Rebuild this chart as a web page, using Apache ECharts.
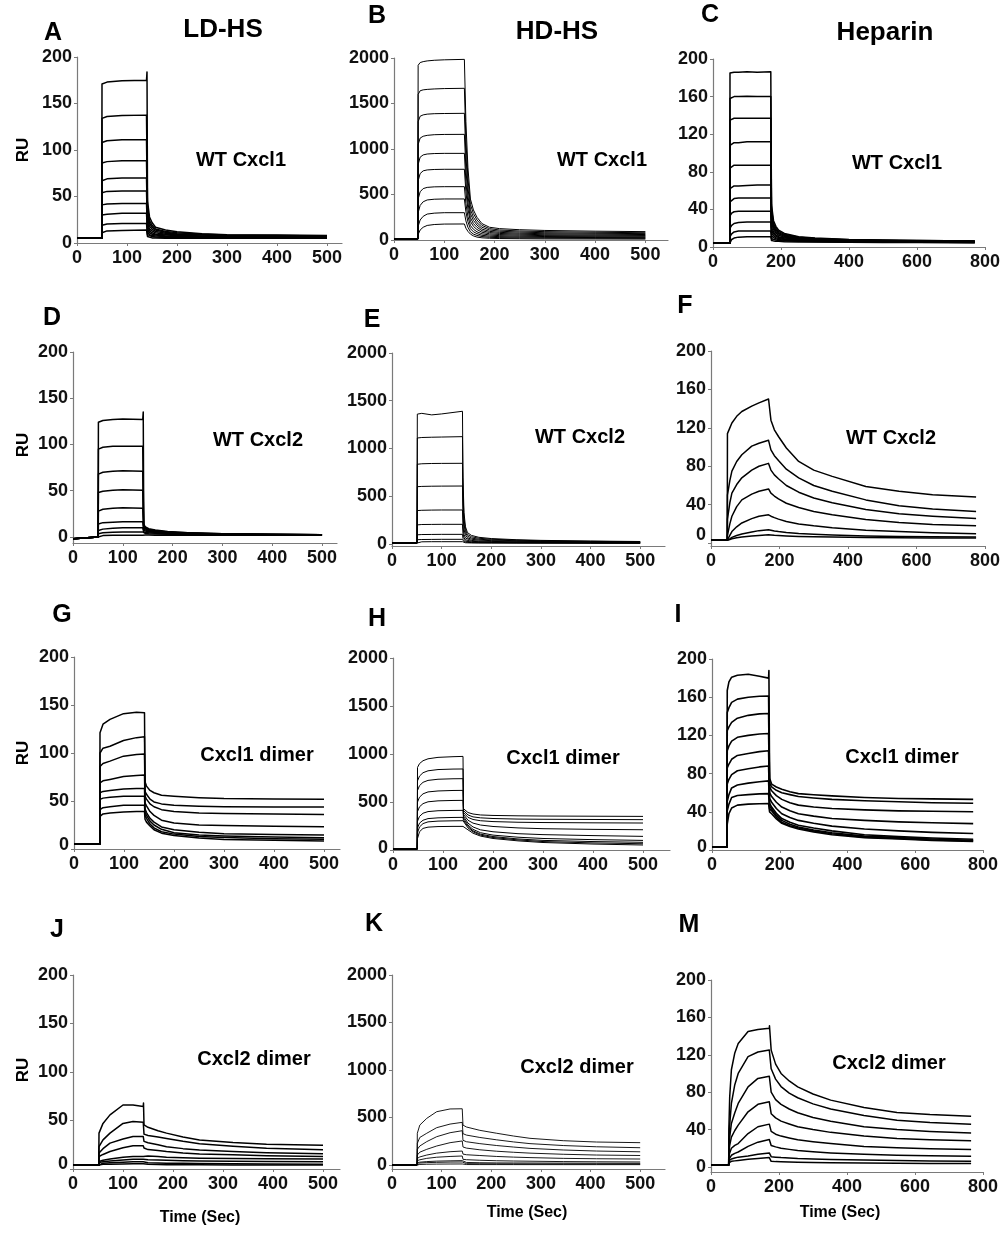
<!DOCTYPE html>
<html><head><meta charset="utf-8">
<script src="https://cdn.jsdelivr.net/npm/echarts@6/dist/echarts.min.js"></script>
<style>html,body{margin:0;padding:0;background:#fff}#c{width:1003px;height:1235px}</style>
</head><body><div id="c"></div>
<script>
// ---------------- DATA (RU vs time) ----------------
const tA = [0, 49.5, 50, 60, 90, 139, 140, 141, 145, 150, 157, 177, 200, 250, 300, 400, 500];
const vA = [
 [5,5,171,173,174.5,175,184,45,28,22,17,14,12,10,9,8.5,8],
 [5,5,134,136,137,137.5,137.5,38,24,19,15,12.5,11,9.5,8.5,8,7.5],
 [5,5,108,110,111,111,111,32,21,17,14,11.5,10,9,8,7.5,7],
 [5,5,86,87.5,88.5,88.5,88.5,27,18,15,12.5,10.5,9.5,8.5,7.5,7,7],
 [5,5,67,69,70,70,70,22,15,13,11,9.5,8.5,7.5,7,6.5,6.5],
 [5,5,54,55.5,56,56,56,18,13,11,9.5,8.5,8,7,6.5,6,6],
 [5,5,41,42,42.5,42.5,42.5,15,11,9.5,8.5,7.5,7,6.5,6,6,5.5],
 [5,5,30,31,32,32,32,12,9,8,7.5,7,6.5,6,5.5,5.5,5.5],
 [5,5,19,20.5,21,21,21,9,7.5,7,6.5,6,6,5.5,5.5,5,5],
 [5,5,11,13,13.5,14,14,7,6,5.5,5.5,5,5,5,5,5,5]
];
const tB = [0, 47.5, 48, 52, 58, 66, 80, 100, 140, 143, 147, 152, 158, 165, 175, 190, 210, 250, 300, 400, 500];
const vB = [
 [10,10,1920,1950,1960,1968,1975,1980,1985,1300,800,450,330,250,180,140,125,113,105,97,92],
 [10,10,1600,1640,1650,1655,1660,1664,1667,1100,680,390,290,220,160,125,110,99,92,85,80],
 [10,10,1300,1360,1375,1383,1388,1390,1392,930,580,335,250,190,140,110,97,87,80,74,70],
 [10,10,1050,1120,1140,1150,1157,1160,1161,780,490,290,215,165,120,95,84,75,69,64,60],
 [10,10,830,910,935,945,950,952,952,640,410,245,180,140,102,82,72,64,58,54,50],
 [10,10,650,730,760,770,775,777,777,530,340,205,150,115,85,68,60,53,48,45,42],
 [10,10,450,530,565,578,584,586,586,400,260,160,118,90,68,55,48,42,38,36,34],
 [10,10,300,380,420,440,448,451,451,310,200,125,90,70,52,42,37,32,29,27,26],
 [10,10,150,220,260,285,295,300,300,210,140,90,65,50,38,30,26,23,21,19,18],
 [10,10,60,110,140,160,170,175,176,130,95,65,45,32,24,19,16,14,12,11,10]
];
const tC = [0, 49.5, 50, 55, 62, 75, 100, 130, 170, 172, 178, 185, 193, 210, 252, 300, 400, 500, 600, 770];
const vC = [
 [4,4,185,185.5,186,186,186.5,186,186.5,45,28,22,18,14.5,11,9.5,8,7.5,7,6.5],
 [4,4,158,159,160,160,160.5,160,160,40,25,20,16.5,13.5,10.5,9,7.8,7.2,6.8,6.3],
 [4,4,135,136,137,137,137,137,137,36,23,18,15,12.5,10,8.7,7.5,7,6.5,6.1],
 [4,4,108,110,111,111,112,112,112,31,21,16.5,14,11.5,9.5,8.3,7.2,6.7,6.3,5.9],
 [4,4,84,86,87,87,87,87,87,26,18.5,15,12.5,10.5,9,8,7,6.5,6.1,5.7],
 [4,4,62,64,65,65,65.5,66,66,21,16,13,11,9.5,8.3,7.5,6.7,6.2,5.9,5.5],
 [4,4,48,50,51.5,52,52,52,52,18,14,11.5,10,8.8,7.8,7,6.4,6,5.7,5.3],
 [4,4,33,36,37.5,38,38,38,38,15,12,10,9,8,7.2,6.6,6,5.7,5.4,5.1],
 [4,4,20,23,25,26,26.5,26.5,26.5,12,10,8.8,8,7.2,6.6,6.1,5.7,5.4,5.2,4.9],
 [4,4,11,14,16,17,17,17,17,9,8,7.5,7,6.5,6,5.7,5.4,5.2,5,4.7],
 [4,4,6,8,9.5,10.5,11,11,11,7,6.5,6.2,6,5.7,5.4,5.2,5,4.8,4.7,4.5]
];
const tD = [0, 50.5, 51, 60, 80, 100, 140, 141, 142, 145, 152, 165, 190, 230, 300, 400, 500];
const vD = [
 [-2,0,124,126,127,127.5,127,135,14,11,9,7.5,6,4.5,3.5,3,2.5],
 [-2,0,95,97,98,98,98,98,12,10,8,7,5.5,4.5,3.5,3,2.5],
 [-2,0,68,70,71,71.5,71,71,11,9,7.5,6.5,5,4,3.2,2.8,2.4],
 [-2,0,48,49.5,50.5,51,50.5,50.5,10,8,7,6,5,4,3,2.7,2.3],
 [-2,0,28,30,31,31.5,31,31,8.5,7,6,5.5,4.5,3.5,3,2.5,2.2],
 [-2,0,14,15.5,16,16.5,16.5,16.5,7,6,5.5,5,4,3.3,2.8,2.4,2.1],
 [-2,0,7,8.5,9.5,10,10,10,5.5,5,4.5,4,3.5,3,2.6,2.3,2],
 [-2,0,3.5,4.5,5,5.5,5.5,5.5,4,3.8,3.5,3.3,3,2.7,2.4,2.2,2],
 [-2,0,1,1.5,2,2,2,2,2.2,2.2,2.1,2,2,2,2,2,2]
];
const tE = [0, 50.5, 51, 60, 80, 100, 142, 143, 145, 148, 152, 160, 175, 200, 250, 300, 400, 500];
const vE = [
 [10,10,1360,1368,1352,1362,1390,700,330,180,120,90,70,57,45,38,31,26],
 [10,10,1110,1115,1118,1120,1124,560,270,150,100,76,60,50,40,34,28,23],
 [10,10,835,840,843,844,845,420,210,120,82,62,50,42,34,29,24,20],
 [10,10,600,603,605,606,607,300,155,92,65,50,41,35,29,25,21,18],
 [10,10,350,353,355,356,356,180,100,62,46,37,31,27,23,20,17,15],
 [10,10,200,204,205,206,206,110,65,44,34,28,24,21,18,16,14,12],
 [10,10,96,99,100,101,101,60,40,30,25,21,18,16,14,13,11,10],
 [10,10,45,47,48,49,49,32,24,20,17,15,13.5,12.5,11,10.5,9.5,9],
 [10,10,22,23,24,24,24,18,15,13,12,11,10.5,10,9.5,9,8.5,8]
];
const tF = [0, 47.5, 48, 55, 61, 75, 90, 119, 140, 168, 175, 185, 197, 220, 256, 300, 354, 452, 549, 647, 774];
const vF = [
 [3,3,114,120,125,132,137,142.6,146,150,128,118,111,99,85,76,69.5,59,54,50.4,48],
 [3,3,50,65,75,85,92,101,104,107,97,91,86,77,68,60,54,45,39,35.5,33],
 [3,3,25,42,52,61,68,76,80,83,76,71,67,60,53,47,42,35,30.5,28,25.7],
 [3,3,8,20,28,38,45,51,54,56.4,52,49,46,41.5,37,33,29.5,24.5,21.5,19.5,18],
 [3,3,3,8,12,17,21,25.5,28,29.5,28,26.5,25,22.5,20,18,16,13.5,12,10.8,9.7],
 [3,3,3,4.5,6,8,9.5,11.5,13,13.9,13.5,12.7,12,11,10,9.2,8.5,7.5,7,6.6,6.3],
 [3,3,3,3.8,4.5,5.5,6.3,7.3,8,8.7,8.5,8.2,8,7.5,7,6.6,6.3,5.9,5.6,5.4,5.2]
];
const tG = [0, 51.5, 52, 58, 72, 99, 125, 141, 142, 145, 152, 160, 175, 200, 250, 300, 400, 500];
const vG = [
 [5,5,121,130,135,141,142.5,142,70,65.5,61,58.6,56,55,53.5,52.5,52,51.7],
 [5,5,100,105,107,113,116,117,60,57,52,49,47,45.5,44.5,44,43.8,43.7],
 [5,5,86,89,91.5,96.7,98.5,99,55,52,47,44,41,39,37.5,37,36.5,36],
 [5,5,69,71,72.5,75.5,76.5,77,48,45,39,35,30,27,25,24.5,23.8,23.3],
 [5,5,58.6,60,61,62.5,63,63,42,38,32,28,23,20,17.5,16,15,14.6],
 [5,5,51.7,53,54,55,55,55,38,35,29,25,20.5,17,14.5,13.5,12.5,11.8],
 [5,5,41,43,44,45.5,45.7,45.7,35,32,26,22,18,15.5,13,12,10.8,10.1],
 [5,5,34,36.5,37.5,38.5,39,39,31,28,24,20,16.5,14,11.5,10,9,8.3]
];
const tH = [0, 48.5, 49, 53, 60, 70, 90, 120, 140, 141, 150, 160, 175, 200, 250, 300, 400, 500];
const vH = [
 [10,10,860,900,930,950,965,972,975,430,390,375,365,360,356,354,352,350],
 [10,10,720,770,805,825,838,843,844,410,365,345,335,328,322,320,318,316],
 [10,10,620,670,705,725,737,742,743,390,340,318,305,296,289,286,283,281],
 [10,10,500,550,585,605,615,620,621,370,310,280,260,245,230,222,215,211],
 [10,10,400,450,483,502,512,516,517,350,280,240,210,190,170,160,150,142],
 [10,10,300,350,383,400,409,412,413,330,260,215,180,155,133,120,108,100],
 [10,10,230,280,310,327,335,339,340,310,245,200,165,140,115,100,88,80],
 [10,10,180,240,275,293,301,304,305,290,230,190,155,130,105,88,74,65],
 [10,10,120,190,225,238,244,246,246,240,210,175,145,120,95,78,62,52]
];
const tI = [0, 44.5, 45, 50, 58, 75, 107, 140, 167, 168, 170, 176, 190, 206, 230, 255, 300, 354, 450, 551, 650, 771];
const vI = [
 [3,3,167,176,181,183,184,182,180,188,75,69,66,63.7,61,59,57.8,56.7,55,54,53.5,53],
 [3,3,144,149,154.6,158,160,161,161.3,161.3,70,66,62.5,60,58,56,54.5,53,51.5,50.5,49.5,49],
 [3,3,125,129,133.6,138,141,142.5,143,143,66,62,57,53,49.5,47,45,43.5,42,41,40.5,40],
 [3,3,104,109,114,118,120,121.5,122,122,60,56,50,45,41,38,35.5,33,31,29.5,28.5,27.6],
 [3,3,86,90,95,99,101,103,104,104,54,50,43.5,38,34,31,28,25,22,20,18.5,17.2],
 [3,3,69,74,79,83,85,87,88,88,49,45,38.5,33,29,26,23,20,16,14,12.5,11.2],
 [3,3,51,58,65,68,70,71.5,72.4,72.4,46,43,36.5,31,27,24,21,18,14.5,13,11.5,10.2],
 [3,3,41,48,55,57,58,58.8,59,59,43,41,34.5,29,25.5,23,20,17,13.5,12,10.5,9.4],
 [3,3,27,38,44,47,48,48.5,48.6,48.6,40,38,32.5,28,24.5,22,19,16,13,11.5,10,9]
];
const tJ = [0, 51.5, 52, 60, 74, 100, 120, 140.5, 141, 142, 150, 170, 187, 220, 253, 320, 387, 500];
const vJ = [
 [4,4,37,47,55.8,66,66,64.5,68,45.5,43,39.5,37,33,30,27.3,25.6,24.6],
 [4,4,23,30,37,47,49,48.3,48.3,36,34.5,33,31.5,28.5,26,23.5,21.5,19.8],
 [4,4,16.4,21,26.7,31,33.5,33.5,33.5,28.5,27,25,23,21,19.5,18,16.8,15.7],
 [4,4,12.9,15,18,22,23.9,24,24,21.6,20,19,18,16.5,15.5,14.6,13.7,12.9],
 [4,4,7.7,9,10.2,12,12.9,12.9,12.9,14,13.5,12.8,12.2,11.6,11.2,10.8,10.5,10.2],
 [4,4,6.7,7.5,8.2,9.2,10,10,10,10,9.6,9.3,9,8.6,8.3,8,7.8,7.5],
 [4,4,5.5,6,6.5,7,7.4,7.4,7.4,7,6.5,6.2,6,5.8,5.6,5.3,5.1,5],
 [4,4,4.6,4.8,5,5.2,5.3,5.3,5.3,5,4.8,4.6,4.5,4.4,4.3,4.2,4.1,4]
];
const tK = [0, 50.5, 51, 56, 70, 90, 117, 141.5, 142, 143, 150, 177, 211, 245, 278, 345, 412, 500];
const vK = [
 [0,0,334,420,491,561,590,592,597,420,400,365,334,305,281,256,242,235],
 [0,0,228,290,334,393,431,449,449,330,315,290,265,243,225,205,192,182],
 [0,0,165,200,246,298,340,361,361,260,245,225,205,189,175,158,147,139],
 [0,0,105,135,165,200,235,253,253,190,178,160,145,134,125,113,105,100],
 [0,0,70,85,105,125,140,147,147,115,108,100,90,83,78,70,66,63],
 [0,0,46,55,70,82,90,95,95,60,56,50,45,42,40,36,34,32],
 [0,0,25,30,36,41,44,46,46,28,27,24,22,21.5,21,20,19,18],
 [0,0,18,21,25,28,31,32,32,15,14.5,13,12,11.5,11,10.5,10.2,10],
 [0,0,4,6,8,9.5,10.5,11,11,5,5,4.5,4.5,4.3,4.2,4,4,4]
];
const tM = [0, 52, 52.5, 55, 60, 70, 80, 109, 138, 171.5, 172, 177, 190, 206, 230, 255, 300, 352, 450, 547, 644, 765];
const vM = [
 [2,2,40,75,104,122,132,145,147,148.5,151,125,110,100,92,85.7,78,71.5,63.6,58.3,56,54.3],
 [2,2,28.6,45,68,88,100,118,123,125,125,105,94,86,79,74,67.5,62,55,50,47.5,45.8],
 [2,2,21.4,32,46.5,58,68,85.7,94.7,97,97,80,72,67,62,58,53,49,43,40,38,36.4],
 [2,2,15,23,32,39,44.7,59,67,69.7,69.7,57,52.5,49,46,43,40,37,33,30.5,29,28],
 [2,2,10.7,15,20,23,25,35.7,43,45.8,45.8,38,35,33,31,29,27,25,22,20.5,19.5,18.6],
 [2,2,7.9,10,12.5,14.5,16,22,26.5,29.4,29.4,23,21.5,20,18.8,17.5,16.2,15,13.5,12.5,12,11.5],
 [2,2,6.4,7.5,8.5,9.5,10.5,11.8,13.5,15,15,11,10.5,10,9.5,9,8.5,8,7.5,7,6.5,6],
 [2,2,4.3,5,6,6.5,7,8.2,9,10,10,6,5.7,5.5,5.2,5,4.7,4.5,4.2,4,3.8,3.6]
];
// tick labels
const xTicks500 = [0, 100, 200, 300, 400, 500];
const xTicks800 = [0, 200, 400, 600, 800];
const yTicks200by50 = [0, 50, 100, 150, 200];
const yTicks2000 = [0, 500, 1000, 1500, 2000];
const yTicks200by40 = [0, 40, 80, 120, 160, 200];
// text
const panelLetters = ['A','B','C','D','E','F','G','H','I','J','K','M'];
const columnTitles = ['LD-HS', 'HD-HS', 'Heparin'];
const panelNotes = ['WT Cxcl1','WT Cxcl1','WT Cxcl1','WT Cxcl2','WT Cxcl2','WT Cxcl2','Cxcl1 dimer','Cxcl1 dimer','Cxcl1 dimer','Cxcl2 dimer','Cxcl2 dimer','Cxcl2 dimer'];

// ---------------- LAYOUT ----------------
const FONT = '"Liberation Sans", Arial, Helvetica, sans-serif';
const AX = '#7a7a7a';
const panels = [
 {t:tA, v:vA, g:[77,57,265,186],  x:[0,530], xt:xTicks500, y:[0,200],     yt:yTicks200by50, lw:1.5, z0:0},
 {t:tB, v:vB, g:[394,58,274,182], x:[0,545], xt:xTicks500, y:[0,2000],    yt:yTicks2000,    lw:1.0, z0:0},
 {t:tC, v:vC, g:[713,59,272,188], x:[0,800], xt:xTicks800, y:[0,200],     yt:yTicks200by40, lw:1.5, z0:0},
 {t:tD, v:vD, g:[73,352,264,191], x:[0,530], xt:xTicks500, y:[-6.5,200],  yt:yTicks200by50, lw:1.5, z0:0},
 {t:tE, v:vE, g:[392,353,273,193],x:[0,550], xt:xTicks500, y:[-21,2000],  yt:yTicks2000,    lw:1.0, z0:0},
 {t:tF, v:vF, g:[711,351,274,195],x:[0,800], xt:xTicks800, y:[-3,200],    yt:yTicks200by40, lw:1.5, z0:16},
 {t:tG, v:vG, g:[74,657,266,192], x:[0,532], xt:xTicks500, y:[0,200],     yt:yTicks200by50, lw:1.5, z0:8},
 {t:tH, v:vH, g:[393,658,277,192],x:[0,554], xt:xTicks500, y:[0,2000],    yt:yTicks2000,    lw:1.0, z0:4},
 {t:tI, v:vI, g:[712,659,271,191],x:[0,800], xt:xTicks800, y:[0,200],     yt:yTicks200by40, lw:1.6, z0:6},
 {t:tJ, v:vJ, g:[73,975,267,194], x:[0,534], xt:xTicks500, y:[0,200],     yt:yTicks200by50, lw:1.5, z0:10},
 {t:tK, v:vK, g:[392,975,273,194],x:[0,550], xt:xTicks500, y:[-42,2000],  yt:yTicks2000,    lw:0.9, z0:0},
 {t:tM, v:vM, g:[711,980,272,192],x:[0,800], xt:xTicks800, y:[-5.4,200],  yt:yTicks200by40, lw:1.5, z0:0}
];
const letterPos = [[53,33],[377,16],[710,15],[52,318],[372,320],[685,306],[62,615],[377,619],[678,615],[57,930],[374,924],[689,925]];
const titlePos = [[223,30],[557,32],[885,33]];
const notePos = [[241,160],[602,160],[897,163],[258,440],[580,437],[891,438],[257,755],[563,758],[902,757],[254,1059],[577,1067],[889,1063]];
const ruPos = [[23,150],[23,445],[23,753],[23,1070]];
const timePos = [[200,1218],[527,1213],[840,1213]];

const labelStyle = {color:'#111', fontFamily:FONT, fontSize:18, fontWeight:'bold'};
const grid = [], xAxis = [], yAxis = [], series = [];
panels.forEach((p, i) => {
  grid.push({left:p.g[0], top:p.g[1], width:p.g[2], height:p.g[3], containLabel:false});
  xAxis.push({type:'value', gridIndex:i, min:p.x[0], max:p.x[1],
    axisLine:{show:true, onZero:false, lineStyle:{color:AX, width:1.2}},
    axisTick:{show:true, length:3, customValues:p.xt, lineStyle:{color:AX}},
    axisLabel:Object.assign({customValues:p.xt, margin:6, formatter:v => String(v)}, labelStyle),
    splitLine:{show:false}});
  yAxis.push({type:'value', gridIndex:i, min:p.y[0], max:p.y[1],
    axisLine:{show:true, onZero:false, lineStyle:{color:AX, width:1.2}},
    axisTick:{show:true, length:3, customValues:p.yt, lineStyle:{color:AX}},
    axisLabel:Object.assign({customValues:p.yt, margin:5,
      formatter:v => (v === 0 && p.z0) ? '{z|0}' : String(v),
      rich:{z:{padding:[0,0,p.z0,0], fontFamily:FONT, fontSize:18, fontWeight:'bold', color:'#111'}}}, labelStyle),
    splitLine:{show:false}});
  p.v.forEach(row => {
    series.push({type:'line', xAxisIndex:i, yAxisIndex:i, symbol:'none', silent:true,
      data:p.t.map((tt, j) => [tt, row[j]]),
      lineStyle:{color:'#000', width:p.lw, join:'round'}});
  });
});

function txt(s, x, y, size, rot) {
  return {type:'text', x:x, y:y, rotation:rot||0, silent:true,
    style:{text:s, fill:'#000', font:'bold ' + size + 'px ' + FONT,
      align:'center', verticalAlign:'middle', textAlign:'center', textVerticalAlign:'middle'}};
}
const graphic = [];
panelLetters.forEach((s, i) => graphic.push(txt(s, letterPos[i][0], letterPos[i][1], 25)));
columnTitles.forEach((s, i) => graphic.push(txt(s, titlePos[i][0], titlePos[i][1], 26)));
panelNotes.forEach((s, i) => graphic.push(txt(s, notePos[i][0], notePos[i][1], 20)));
ruPos.forEach(p => graphic.push(txt('RU', p[0], p[1], 17, Math.PI/2)));
timePos.forEach(p => graphic.push(txt('Time (Sec)', p[0], p[1], 16)));

const chart = echarts.init(document.getElementById('c'), null, {renderer:'canvas'});
chart.setOption({animation:false, backgroundColor:'#fff', grid, xAxis, yAxis, series, graphic});
</script>
</body></html>
